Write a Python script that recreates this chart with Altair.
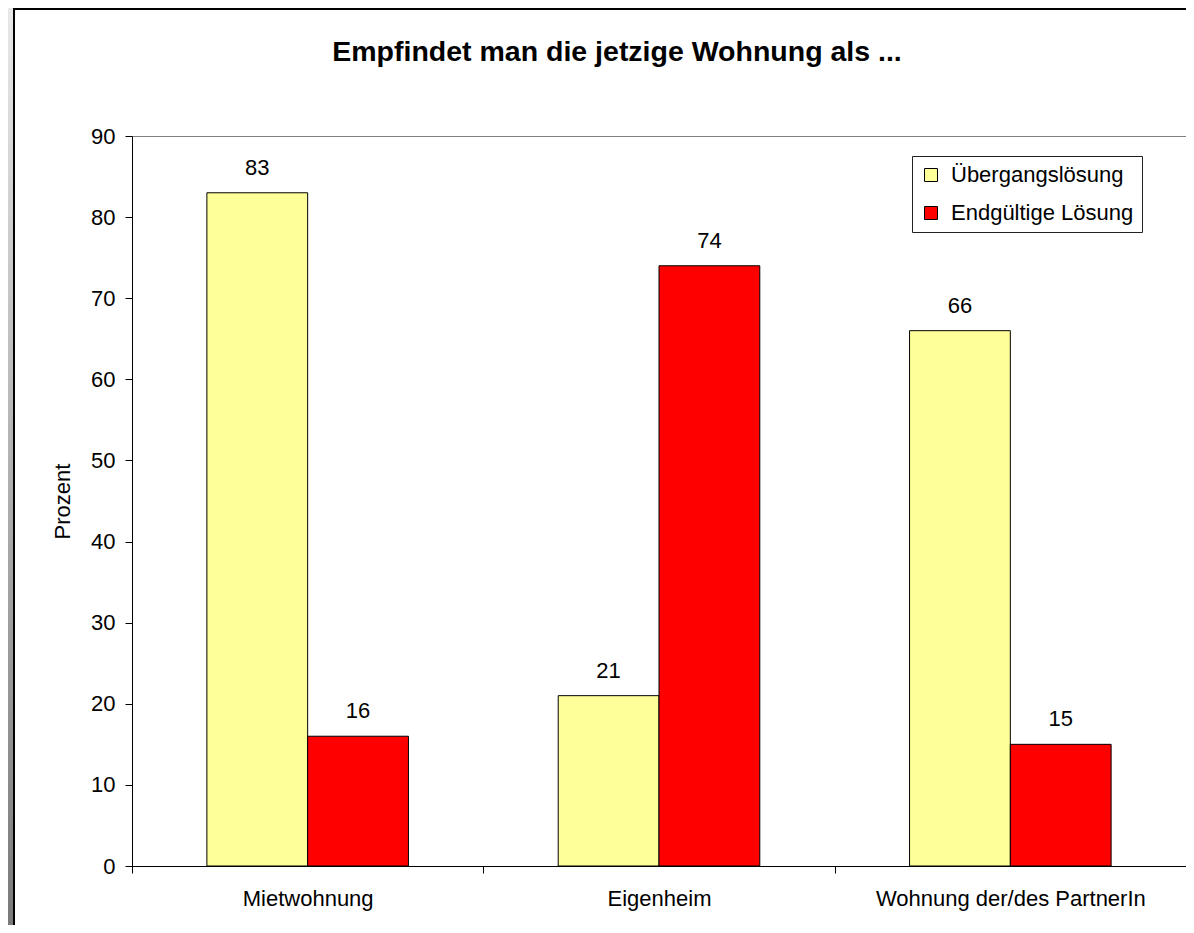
import altair as alt
import pandas as pd

# ---- data ----
categories = ["Mietwohnung", "Eigenheim", "Wohnung der/des PartnerIn"]
series = ["Übergangslösung", "Endgültige Lösung"]
uebergang = [83, 21, 66]
endgueltig = [16, 74, 15]
colors = ["#FFFF99", "#FF0000"]
y_ticks = [0, 10, 20, 30, 40, 50, 60, 70, 80, 90]
title_text = "Empfindet man die jetzige Wohnung als ..."
y_title = "Prozent"

rows = []
for c, a, b in zip(categories, uebergang, endgueltig):
    rows.append({"Kategorie": c, "Serie": series[0], "Wert": a})
    rows.append({"Kategorie": c, "Serie": series[1], "Wert": b})
df = pd.DataFrame(rows)

FONT = "Liberation Sans"
W, H = 1054, 730
PAD = {"left": 124, "top": 128, "right": 0, "bottom": 59}

x = alt.X(
    "Kategorie:N",
    sort=categories,
    scale=alt.Scale(paddingInner=0, paddingOuter=0),
    axis=alt.Axis(title=None, labelAngle=0, tickBand="extent", tickSize=7,
                  labelPadding=15, labelLimit=0),
)
xo = alt.XOffset("Serie:N", sort=series, scale=alt.Scale(paddingInner=0, paddingOuter=0.743))
y = alt.Y(
    "Wert:Q",
    scale=alt.Scale(domain=[0, 90], nice=False),
    axis=alt.Axis(title=y_title, values=y_ticks, grid=False, tickSize=7,
                  labelPadding=10, titlePadding=16),
)

bars = alt.Chart(df).mark_bar(stroke="black", strokeWidth=1).encode(
    x=x,
    xOffset=xo,
    y=y,
    color=alt.Color(
        "Serie:N",
        sort=series,
        scale=alt.Scale(domain=series, range=colors),
        legend=alt.Legend(title=None, orient="none", legendX=780, legendY=20, labelLimit=0),
    ),
)

labels = alt.Chart(df).mark_text(
    baseline="alphabetic", dy=-18, font=FONT, fontSize=22, color="black"
).encode(x=x, xOffset=xo, y=y, text="Wert:Q")

deco = pd.DataFrame({"d": [0]})
strip = alt.Chart(deco).mark_rect(
    fill={
        "gradient": "linear",
        "x1": 0, "y1": 0, "x2": 0, "y2": 1,
        "stops": [
            {"offset": 0, "color": "#e8e8e8"},
            {"offset": 1, "color": "#7a7a7a"},
        ],
    }
).encode(x=alt.value(-124), x2=alt.value(-119), y=alt.value(-128), y2=alt.value(H + 59))
border_left = alt.Chart(deco).mark_rule(color="black", strokeWidth=2).encode(
    x=alt.value(-118), y=alt.value(-128), y2=alt.value(H + 59)
)
border_top = alt.Chart(deco).mark_rule(color="black", strokeWidth=2).encode(
    x=alt.value(-119), x2=alt.value(W), y=alt.value(-127)
)

chart = (
    alt.layer(strip, border_left, border_top, bars, labels)
    .properties(
        width=W,
        height=H,
        title=alt.Title(title_text),
        autosize=alt.AutoSizeParams(type="none"),
        padding=PAD,
        background="white",
    )
    .configure_axis(
        domainColor="black",
        tickColor="black",
        labelColor="black",
        labelFont=FONT,
        labelFontSize=22,
        titleFont=FONT,
        titleFontSize=22,
        titleFontWeight="normal",
        titleColor="black",
    )
    .configure_view(stroke="#808080", strokeWidth=1)
    .configure_title(
        font=FONT, fontSize=28.5, fontWeight="bold", color="black",
        anchor="middle", dx=-42, dy=122, baseline="alphabetic", offset=63,
    )
    .configure_legend(
        strokeColor="#222222",
        fillColor="white",
        padding=8,
        labelFont=FONT,
        labelFontSize=22,
        labelColor="black",
        labelLimit=0,
        symbolType="square",
        symbolSize=169,
        symbolStrokeColor="black",
        symbolStrokeWidth=1,
        rowPadding=16,
        labelOffset=9,
    )
)

chart.save("out.html", embed_options={"renderer": "svg", "actions": False})
